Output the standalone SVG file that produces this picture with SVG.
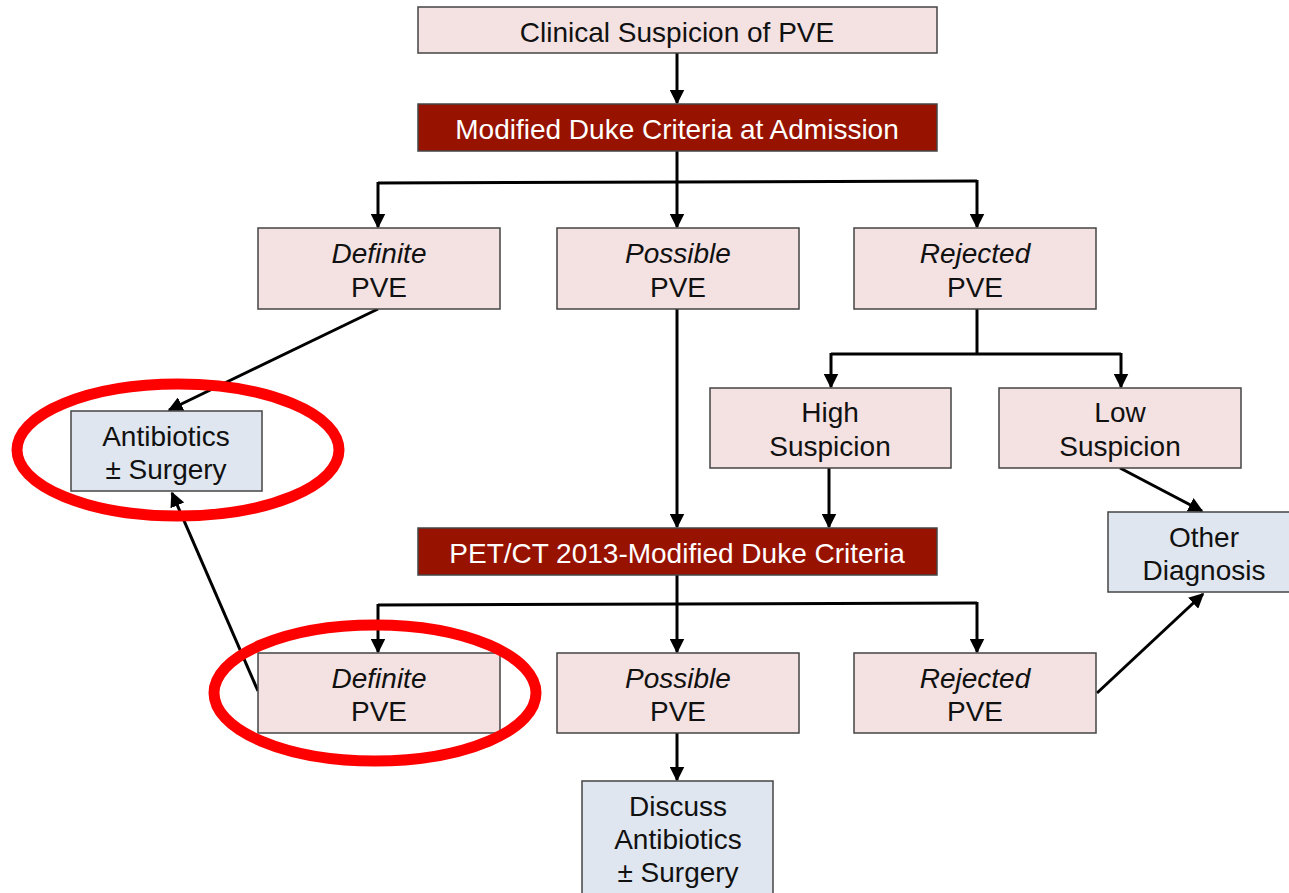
<svg xmlns="http://www.w3.org/2000/svg" width="1289" height="893" viewBox="0 0 1289 893">
<defs>
<marker id="ah" viewBox="0 0 10 10" refX="9" refY="5" markerWidth="5" markerHeight="5" orient="auto" markerUnits="strokeWidth">
<path d="M0,0 L10,5 L0,10 z" fill="#000"/>
</marker>
<style>
.p{fill:#f4e1e1;stroke:#444;stroke-width:1.5}
.b{fill:#dfe6ef;stroke:#444;stroke-width:1.5}
.d{fill:#981200;stroke:#444;stroke-width:1.5}
text{font-family:"Liberation Sans",Arial,sans-serif;font-size:28px;text-anchor:middle;fill:#111}
.w{fill:#fff}
.i{font-style:italic}
.c{fill:none;stroke:#000;stroke-width:3}
.ca{fill:none;stroke:#000;stroke-width:3;marker-end:url(#ah)}
.r{fill:none;stroke:#f00;stroke-width:11}
</style>
</defs>
<rect width="1289" height="893" fill="#fff"/>
<g id="connectors">
<line class="ca" x1="677" y1="53" x2="677" y2="103"/>
<polyline class="c" points="677,151 677,182"/>
<polyline class="c" points="378,183 977,181"/>
<polyline class="ca" points="378,182 378,227"/>
<polyline class="ca" points="977,180 977,227"/>
<line class="ca" x1="677" y1="182" x2="677" y2="227"/>
<polyline class="c" points="977,309 977,354"/>
<polyline class="c" points="831,354 1121,354"/>
<polyline class="ca" points="831,353 831,387"/>
<polyline class="ca" points="1121,353 1121,387"/>
<line class="ca" x1="829" y1="468" x2="829" y2="527"/>
<line class="ca" x1="677" y1="309" x2="677" y2="527"/>
<polyline class="c" points="677,575 677,604"/>
<polyline class="c" points="378,605 977,603"/>
<polyline class="ca" points="378,604 378,652"/>
<polyline class="ca" points="977,602 977,652"/>
<line class="ca" x1="677" y1="604" x2="677" y2="652"/>
<line class="ca" x1="677" y1="733" x2="677" y2="780"/>
<line class="ca" x1="378" y1="309" x2="169" y2="410"/>
<line class="ca" x1="258" y1="691" x2="172" y2="493"/>
<line class="ca" x1="1120" y1="468" x2="1202" y2="511"/>
<line class="ca" x1="1097" y1="693" x2="1203" y2="594"/>
</g>
<g id="n1"><rect class="p" x="418" y="7" width="519" height="46"/><text x="677" y="42">Clinical Suspicion of PVE</text></g>
<g id="n2"><rect class="d" x="418" y="104" width="519" height="47"/><text class="w" x="677" y="139">Modified Duke Criteria at Admission</text></g>
<g id="n3"><rect class="p" x="258" y="228" width="242" height="81"/><text class="i" x="379" y="263">Definite</text><text x="379" y="297">PVE</text></g>
<g id="n4"><rect class="p" x="557" y="228" width="242" height="81"/><text class="i" x="678" y="263">Possible</text><text x="678" y="297">PVE</text></g>
<g id="n5"><rect class="p" x="854" y="228" width="242" height="81"/><text class="i" x="975" y="263">Rejected</text><text x="975" y="297">PVE</text></g>
<g id="n6"><rect class="p" x="710" y="388" width="241" height="80"/><text x="830" y="422">High</text><text x="830" y="456">Suspicion</text></g>
<g id="n7"><rect class="p" x="999" y="388" width="242" height="80"/><text x="1120" y="422">Low</text><text x="1120" y="456">Suspicion</text></g>
<g id="n8"><rect class="b" x="71" y="411" width="191" height="80"/><text x="166" y="446">Antibiotics</text><text x="166" y="479">± Surgery</text></g>
<g id="n9"><rect class="d" x="418" y="528" width="519" height="47"/><text class="w" x="677" y="563">PET/CT 2013-Modified Duke Criteria</text></g>
<g id="n10"><rect class="b" x="1108" y="512" width="183" height="80"/><text x="1204" y="547">Other</text><text x="1204" y="580">Diagnosis</text></g>
<g id="n11"><rect class="p" x="258" y="653" width="242" height="80"/><text class="i" x="379" y="688">Definite</text><text x="379" y="721">PVE</text></g>
<g id="n12"><rect class="p" x="557" y="653" width="242" height="80"/><text class="i" x="678" y="688">Possible</text><text x="678" y="721">PVE</text></g>
<g id="n13"><rect class="p" x="854" y="653" width="242" height="80"/><text class="i" x="975" y="688">Rejected</text><text x="975" y="721">PVE</text></g>
<g id="n14"><rect class="b" x="582" y="781" width="191" height="120"/><text x="678" y="816">Discuss</text><text x="678" y="849">Antibiotics</text><text x="678" y="882">± Surgery</text></g>
<g id="highlights">
<ellipse class="r" cx="178" cy="450" rx="161" ry="66"/>
<ellipse class="r" cx="375" cy="693" rx="161" ry="68"/>
</g>
</svg>
